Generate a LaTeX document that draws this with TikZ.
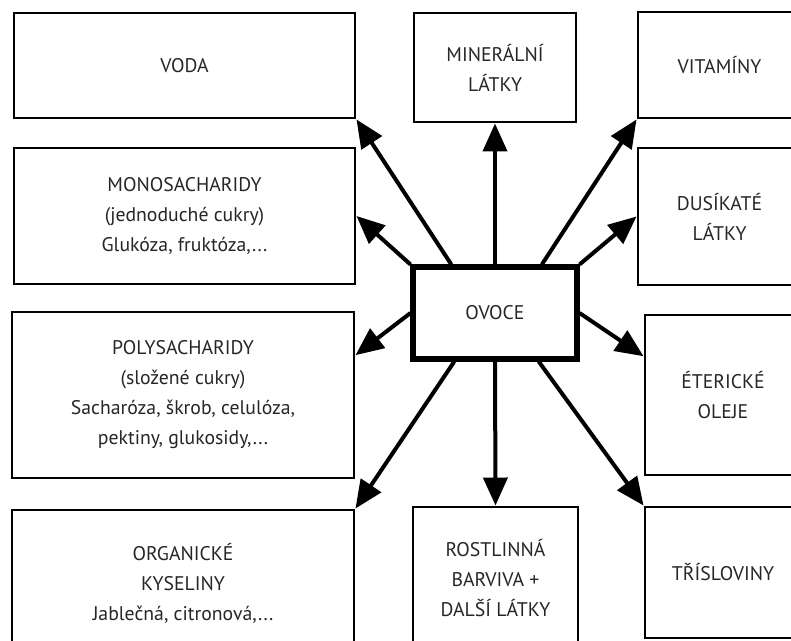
\documentclass[tikz,border=0pt]{standalone}
\usepackage{fontspec}
\setmainfont{PT Sans}
\usetikzlibrary{arrows.meta}
\tikzset{
  >={Triangle[length=21pt,width=18pt]},
  box/.style={draw, line width=2.2pt, align=center, inner sep=0pt,
    font=\fontsize{14.8}{22.5}\selectfont, text=black!85},
  main/.style={box, line width=3.8pt},
  link/.style={draw, ->, line width=3pt},
}

\begin{document}
\begin{tikzpicture}[x=0.75pt, y=-0.75pt]
  \useasboundingbox (0,0) rectangle (791,641);
  \clip (0,0) rectangle (791,641);
  \fill[white] (0,0) rectangle (791,641);

  % left column
  \node[box, minimum width=255.75pt, minimum height=78.75pt]  (voda) at (184.5,65.5) {VODA};
  \node[box, minimum width=255.75pt, minimum height=102pt]    (mono) at (184.5,216)
    {MONOSACHARIDY\\(jednoduché cukry)\\Glukóza, fruktóza,...};
  \node[box, minimum width=256.5pt, minimum height=124.5pt]   (poly) at (183,395)
    {POLYSACHARIDY\\(složené cukry)\\Sacharóza, škrob, celulóza,\\pektiny, glukosidy,...};
  \node[box, minimum width=256.5pt, minimum height=109.5pt]   (organicke) at (183,583)
    {ORGANICKÉ\\KYSELINY\\Jablečná, citronová,...};

  % middle column
  \node[box, minimum width=121.5pt, minimum height=81.75pt]   (mineralni) at (495,67.5)
    {MINERÁLNÍ\\LÁTKY};
  \node[main, minimum width=123pt, minimum height=69pt]       (ovoce) at (495,313) {OVOCE};
  \node[box, minimum width=123.75pt, minimum height=106.5pt]  (barviva) at (495.5,578)
    {ROSTLINNÁ\\BARVIVA +\\DALŠÍ LÁTKY};

  % right column
  \node[box, minimum width=122.25pt, minimum height=79.5pt]   (vitaminy) at (719.5,65) {VITAMÍNY};
  \node[box, minimum width=122.25pt, minimum height=102.75pt] (dusikate) at (719.5,216.5)
    {DUSÍKATÉ\\LÁTKY};
  \node[box, minimum width=117pt, minimum height=120pt]       (etericke) at (723,395)
    {ÉTERICKÉ\\OLEJE};
  \node[box, minimum width=117pt, minimum height=98.25pt]     (trislovinny) at (723,572.5)
    {TŘÍSLOVINY};

  \path (ovoce.132)        edge[link] (voda.south east)
        (ovoce.north west) edge[link] (mono.east)
        (ovoce.west)       edge[link] (poly.13)
        (ovoce.230)        edge[link] (organicke.north east)
        (ovoce.north)      edge[link] (mineralni.south)
        (ovoce.south)      edge[link] (barviva.north)
        (ovoce.46)         edge[link] (vitaminy.south west)
        (ovoce.north east) edge[link] (dusikate.west)
        (ovoce.east)       edge[link] (etericke.154)
        (ovoce.312)        edge[link] (trislovinny.north west);
\end{tikzpicture}
\end{document}
